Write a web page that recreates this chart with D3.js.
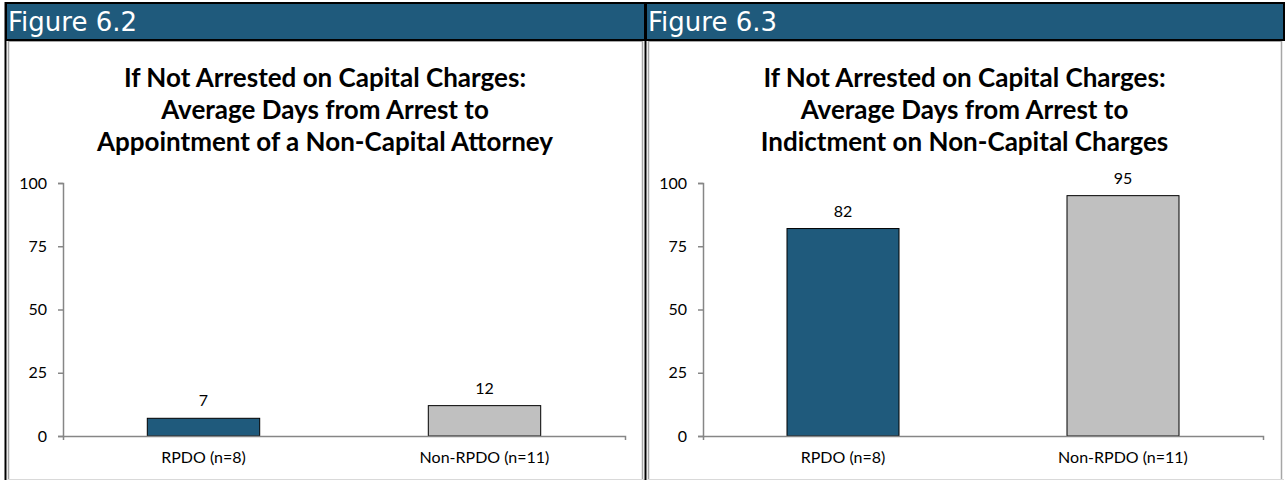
<!DOCTYPE html>
<html>
<head>
<meta charset="utf-8">
<script src="https://cdn.jsdelivr.net/npm/d3@7"></script>
<style>
  body { margin: 0; background: #fff; }
  svg { display: block; }
  .tick text { font-family: Lato, "Liberation Sans", sans-serif; font-size: 16px; fill: #000; }
</style>
</head>
<body>
<div id="chart"></div>
<script>
// data
var categories = ["RPDO (n=8)", "Non-RPDO (n=11)"];
var figureLabels = ["Figure 6.2", "Figure 6.3"];
var titles = [
    ["If Not Arrested on Capital Charges:", "Average Days from Arrest to", "Appointment of a Non-Capital Attorney"],
    ["If Not Arrested on Capital Charges:", "Average Days from Arrest to", "Indictment on Non-Capital Charges"]
];
var valuesFig62 = [7, 12];
var valuesFig63 = [82, 95];
var yTicks = [0, 25, 50, 75, 100];

var barColors = ["#1f5a7c", "#c0c0c0"];
var headerColor = "#1f5a7c";

var W = 1285, H = 480;

var svg = d3.select("#chart")
    .append("svg")
    .attr("width", W)
    .attr("height", H);

// header strip with black border
svg.append("rect")
    .attr("x", 5).attr("y", 2)
    .attr("width", W - 5).attr("height", 39)
    .attr("fill", "#000");

var panels = [
    { x0: 5, x1: 645, values: valuesFig62, axisLeft: 63, axisRight: 625 },
    { x0: 645, x1: 1284, values: valuesFig63, axisLeft: 703, axisRight: 1263 }
];

panels.forEach(function (p, i) {
    // header fill
    svg.append("rect")
        .attr("x", p.x0 + 2).attr("y", 4)
        .attr("width", p.x1 - p.x0 - 3).attr("height", 35)
        .attr("fill", headerColor);

    svg.append("text")
        .attr("x", p.x0 + 3)
        .attr("y", 31)
        .attr("fill", "#fff")
        .style("font-family", "'DejaVu Sans', sans-serif")
        .style("font-size", "26px")
        .text(figureLabels[i]);

    // panel borders: black outer, gray inner
    svg.append("line")
        .attr("x1", p.x0 + 0.5).attr("x2", p.x0 + 0.5)
        .attr("y1", 2).attr("y2", H)
        .attr("stroke", "#000").attr("stroke-width", 2);
    svg.append("line")
        .attr("x1", p.x0 + 3.5).attr("x2", p.x0 + 3.5)
        .attr("y1", 41).attr("y2", H)
        .attr("stroke", "#a6a6a6").attr("stroke-width", 1.5);
    svg.append("line")
        .attr("x1", p.x1 - 2.5).attr("x2", p.x1 - 2.5)
        .attr("y1", 41).attr("y2", H)
        .attr("stroke", "#a6a6a6").attr("stroke-width", 1.5);
    svg.append("line")
        .attr("x1", p.x0 + 3).attr("x2", p.x1 - 2)
        .attr("y1", 41.5).attr("y2", 41.5)
        .attr("stroke", "#a6a6a6").attr("stroke-width", 1);
    svg.append("line")
        .attr("x1", p.x0 + 3).attr("x2", p.x1)
        .attr("y1", 479.5).attr("y2", 479.5)
        .attr("stroke", "#d9d9d9").attr("stroke-width", 1);

    // title
    var cx = (p.x0 + p.x1) / 2;
    var title = svg.append("text")
        .attr("text-anchor", "middle")
        .style("font-family", "Lato, 'Liberation Sans', sans-serif")
        .style("font-weight", "bold")
        .style("font-size", "26px")
        .attr("fill", "#000");
    titles[i].forEach(function (line, k) {
        title.append("tspan")
            .attr("x", cx)
            .attr("y", 87 + k * 32)
            .text(line);
    });

    // scales
    var x = d3.scaleBand()
        .domain(categories)
        .range([p.axisLeft, p.axisRight])
        .padding(0);
    var y = d3.scaleLinear()
        .domain([0, 100])
        .range([436, 183]);

    var barW = x.bandwidth() * 0.4;

    // y axis
    var gy = svg.append("g")
        .attr("transform", "translate(" + p.axisLeft + ",0)")
        .call(d3.axisLeft(y).tickValues(yTicks).tickSize(5).tickPadding(11));
    gy.select(".domain").attr("stroke", "#868686").attr("stroke-width", 1.5);
    gy.selectAll(".tick line").attr("stroke", "#868686").attr("stroke-width", 1.5);

    // bars
    svg.selectAll(".bar" + i)
        .data(p.values)
        .enter()
        .append("rect")
        .attr("x", function (d, k) { return x(categories[k]) + (x.bandwidth() - barW) / 2; })
        .attr("y", function (d) { return y(d); })
        .attr("width", barW)
        .attr("height", function (d) { return y(0) - y(d); })
        .attr("fill", function (d, k) { return barColors[k]; })
        .attr("stroke", "#000")
        .attr("stroke-width", 1);

    // value labels
    svg.selectAll(".lbl" + i)
        .data(p.values)
        .enter()
        .append("text")
        .attr("x", function (d, k) { return x(categories[k]) + x.bandwidth() / 2; })
        .attr("y", function (d) { return y(d) - 12; })
        .attr("text-anchor", "middle")
        .style("font-family", "Lato, 'Liberation Sans', sans-serif")
        .style("font-size", "16px")
        .text(function (d) { return d; });

    // x axis
    var gx = svg.append("g")
        .attr("transform", "translate(0," + y(0) + ")")
        .call(d3.axisBottom(x).tickSize(0).tickPadding(16).tickSizeOuter(4));
    gx.select(".domain").attr("stroke", "#868686").attr("stroke-width", 1.5);
});
</script>
</body>
</html>
